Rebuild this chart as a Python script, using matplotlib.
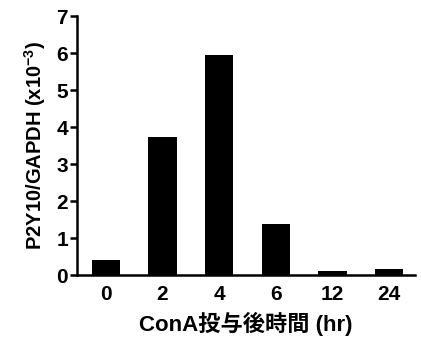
import matplotlib
matplotlib.use('Agg')
import matplotlib.pyplot as plt

plt.rcParams['font.family'] = ['Liberation Sans', 'Noto Sans CJK JP']
plt.rcParams['font.weight'] = 'bold'
plt.rcParams['mathtext.fontset'] = 'custom'
plt.rcParams['mathtext.bf'] = 'Liberation Sans:bold'
plt.rcParams['mathtext.default'] = 'bf'

hours = ['0', '2', '4', '6', '12', '24']
ratio = [0.4, 3.73, 5.95, 1.38, 0.12, 0.17]

fig = plt.figure(figsize=(4.21, 3.44), dpi=100)
ax = fig.add_axes([0.183, 0.2, 0.803, 0.753])

x = range(len(hours))
ax.bar(x, ratio, width=0.5, color='black')

ax.set_xlim(-0.51, len(hours) - 0.54)
ax.set_ylim(0, 7)
ax.set_yticks(range(8))
ax.set_xticks(list(x))
ax.set_xticklabels(hours)

ax.spines['top'].set_visible(False)
ax.spines['right'].set_visible(False)
ax.spines['left'].set_linewidth(1.8)
ax.spines['bottom'].set_linewidth(1.8)
ax.tick_params(axis='y', direction='out', length=5, width=1.8, labelsize=15, pad=1.5)
ax.tick_params(axis='x', length=0, labelsize=15, pad=7)
for lbl in ax.get_xticklabels() + ax.get_yticklabels():
    lbl.set_fontweight('bold')

ax.set_ylabel('P2Y10/GAPDH (x10$^{-3}$)', fontsize=14.5, fontweight='bold', labelpad=6)
ax.set_xlabel('ConA投与後時間 (hr)', fontsize=16, fontweight='bold', labelpad=6)

fig.savefig('out.png', dpi=100)
